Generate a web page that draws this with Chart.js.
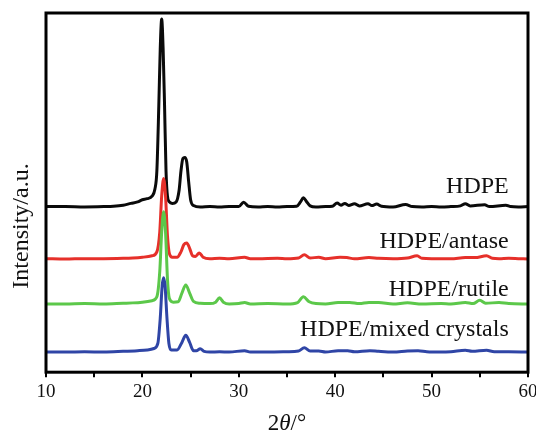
<!DOCTYPE html>
<html lang="en">
  <head>
    <meta charset="utf-8" />
    <title>XRD patterns</title>
    <script src="https://cdn.jsdelivr.net/npm/chart.js/dist/chart.umd.min.js"></script>
    <style>
      * {
        margin: 0;
        padding: 0;
      }
      body {
        background: #fff;
      }
      .chartBox {
        width: 536px;
        height: 436px;
      }
    </style>
  </head>
  <body>
    <div class="chartBox">
      <canvas id="myChart"></canvas>
    </div>

    <script>
      // 2theta / intensity pairs (curves are offset vertically)
      const hdpeX = [10, 12, 14, 16, 17, 18, 18.8, 19.5, 20, 20.5, 21, 21.3, 21.5, 21.7, 21.85, 22, 22.15, 22.3, 22.45, 22.6, 22.8, 23.1, 23.5, 23.8, 24, 24.2, 24.4, 24.6, 24.8, 25, 25.3, 26, 27, 28, 29, 30, 30.5, 31, 32, 33, 34, 35, 36, 36.4, 36.7, 37, 37.4, 38, 39, 39.7, 40.2, 40.6, 41, 41.4, 42, 42.5, 43.4, 43.8, 44.3, 44.8, 46, 47.3, 48, 49, 50, 51, 52, 53, 53.5, 54, 55.5, 56, 57.7, 58.2, 59, 60];
      const hdpeY = [46.1, 46.1, 46.0, 46.1, 46.2, 46.5, 47.0, 47.4, 48.0, 48.3, 49.0, 51, 56, 74, 90, 98.3, 90, 74, 56, 49, 47.4, 47.0, 47.4, 50.5, 56, 59.5, 59.8, 58.5, 53, 48, 46.4, 46.0, 46.1, 46.0, 46.1, 46.1, 47.3, 46.2, 46.0, 46.1, 46.0, 46.1, 46.2, 47.4, 48.6, 47.6, 46.3, 46.0, 46.1, 46.2, 47.1, 46.5, 47.0, 46.4, 46.9, 46.3, 46.9, 46.4, 46.8, 46.2, 46.0, 46.7, 46.1, 46.0, 46.1, 46.0, 46.1, 46.3, 46.9, 46.3, 46.6, 46.1, 46.5, 46.1, 46.0, 46.1];

      const antaseX = [10, 12, 14, 16, 18, 19, 20, 21, 21.5, 21.8, 22, 22.2, 22.4, 22.6, 22.8, 23.1, 23.6, 24, 24.3, 24.6, 24.9, 25.2, 25.5, 25.9, 26.3, 27, 28, 29, 30.6, 31.2, 32, 34, 35, 36.2, 36.8, 37.4, 38.3, 39, 40.5, 41.2, 42, 43.5, 44.5, 46, 47.5, 48.5, 49, 50, 52, 53.5, 54.5, 55.7, 56.3, 57, 58, 59, 60];
      const antaseY = [31.6, 31.5, 31.6, 31.6, 31.7, 31.8, 32.0, 32.4, 33.5, 39, 49, 53.9, 49, 38, 33, 32, 32, 33.5, 35.5, 36.0, 34.5, 32.4, 32.2, 33.2, 32.0, 31.6, 31.7, 31.6, 32.0, 31.6, 31.6, 31.7, 31.6, 31.8, 32.7, 31.8, 32.0, 31.6, 32.0, 31.9, 31.6, 31.9, 31.7, 31.6, 31.8, 32.4, 31.7, 31.6, 31.6, 31.9, 31.9, 32.4, 31.7, 31.6, 31.7, 31.6, 31.5];

      const rutileX = [10, 12, 14, 16, 18, 19, 20, 21, 21.5, 21.8, 22, 22.2, 22.4, 22.6, 22.8, 23.2, 23.7, 24.1, 24.5, 24.9, 25.3, 26, 27, 27.6, 28, 28.4, 29, 30, 30.6, 31.2, 33, 35, 36.1, 36.7, 37.3, 38, 39, 40.3, 41.5, 42.5, 43.5, 44.5, 46, 47.5, 49, 51, 52, 53.5, 54.3, 55, 55.6, 57, 58, 60];
      const rutileY = [19.0, 19.0, 19.1, 19.0, 19.2, 19.3, 19.5, 19.9, 21, 28, 39, 44.7, 39, 26, 20.5, 19.5, 19.6, 22, 24.3, 22, 19.7, 19.2, 19.1, 19.5, 20.7, 19.5, 19.0, 19.1, 19.4, 19.0, 19.1, 19.0, 19.4, 21.0, 19.6, 19.1, 19.0, 19.4, 19.4, 19.1, 19.4, 19.4, 19.0, 19.3, 19.0, 19.1, 19.0, 19.4, 19.1, 20.0, 19.2, 19.4, 19.1, 19.0];

      const mixedX = [10, 12, 14, 16, 18, 19.5, 20.5, 21.2, 21.6, 21.85, 22.05, 22.2, 22.35, 22.55, 22.75, 23, 23.6, 24.1, 24.5, 24.9, 25.3, 25.6, 26, 26.4, 27, 28, 29, 30.6, 31.2, 33, 35, 36.2, 36.8, 37.4, 38.3, 39, 40.3, 41.3, 42, 43.6, 44.5, 46, 47.5, 48.6, 49.5, 51, 52, 53.5, 54.2, 55.7, 56.5, 58, 60];
      const mixedY = [5.6, 5.6, 5.7, 5.6, 5.8, 6.0, 6.2, 6.6, 8, 15, 24, 26.3, 24, 15, 8, 6.2, 6.2, 8.3, 10.3, 8.3, 6.0, 6.0, 6.5, 5.8, 5.6, 5.7, 5.6, 6.0, 5.6, 5.6, 5.7, 5.9, 6.8, 5.9, 5.9, 5.6, 6.0, 6.0, 5.7, 6.0, 5.8, 5.6, 5.9, 6.0, 5.7, 5.6, 5.7, 6.1, 5.8, 6.1, 5.7, 5.7, 5.6];

      const seriesNames = ["HDPE", "HDPE/antase", "HDPE/rutile", "HDPE/mixed crystals"];
      const seriesColors = ["#0a0a0a", "#e6302a", "#5cc84a", "#2f45a6"];

      const serif = "'Liberation Serif', 'DejaVu Serif', serif";

      function pts(xs, ys) {
        return xs.map((x, i) => ({ x: x, y: ys[i] }));
      }

      const allX = [hdpeX, antaseX, rutileX, mixedX];
      const allY = [hdpeY, antaseY, rutileY, mixedY];

      const data = {
        datasets: seriesNames.map((name, i) => ({
          label: name,
          data: pts(allX[i], allY[i]),
          borderColor: seriesColors[i],
          borderWidth: 3,
          pointRadius: 0,
          cubicInterpolationMode: "monotone",
          order: 4 - i, // later series drawn on top
        })),
      };

      // where each curve's name sits (x in degrees, y in plot units)
      const nameAnchorX = 58.0;
      const nameAnchorY = [50.0, 34.6, 21.2, 10.1];

      const frameAndText = {
        id: "frameAndText",
        afterDraw(chart) {
          const { ctx, chartArea, scales } = chart;
          ctx.save();
          // box round the plot
          ctx.strokeStyle = "#000";
          ctx.lineWidth = 3;
          ctx.strokeRect(
            chartArea.left,
            chartArea.top,
            chartArea.right - chartArea.left,
            chartArea.bottom - chartArea.top
          );

          // curve names
          ctx.fillStyle = "#111";
          ctx.font = "24px " + serif;
          ctx.textAlign = "right";
          ctx.textBaseline = "alphabetic";
          seriesNames.forEach((name, i) => {
            ctx.fillText(
              name,
              scales.x.getPixelForValue(nameAnchorX),
              scales.y.getPixelForValue(nameAnchorY[i])
            );
          });

          // x title, theta in italics
          const parts = [
            ["2", "23px " + serif],
            ["θ", "italic 23px " + serif],
            ["/°", "23px " + serif],
          ];
          let total = 0;
          parts.forEach((p) => {
            ctx.font = p[1];
            total += ctx.measureText(p[0]).width;
          });
          let tx = (chartArea.left + chartArea.right) / 2 - total / 2;
          ctx.textAlign = "left";
          parts.forEach((p) => {
            ctx.font = p[1];
            ctx.fillText(p[0], tx, 430);
            tx += ctx.measureText(p[0]).width;
          });

          // y title
          ctx.translate(22, 226);
          ctx.rotate(-Math.PI / 2);
          ctx.textAlign = "center";
          ctx.textBaseline = "middle";
          ctx.font = "24px " + serif;
          ctx.fillText("Intensity/a.u.", 0, 0);
          ctx.restore();
        },
      };

      const config = {
        type: "line",
        data,
        options: {
          responsive: true,
          maintainAspectRatio: false,
          animation: false,
          layout: {
            padding: { left: 46, right: 8, top: 13, bottom: 30 },
          },
          plugins: {
            legend: { display: false },
            tooltip: { enabled: false },
          },
          scales: {
            x: {
              type: "linear",
              min: 10,
              max: 60,
              border: { display: false },
              afterFit(scale) {
                // let the "60" label run into the margin, as in the original
                scale.paddingRight = 0;
              },
              grid: {
                drawOnChartArea: false,
                drawTicks: true,
                tickLength: 5,
                color: "#000",
                lineWidth: 2,
              },
              ticks: {
                stepSize: 5,
                autoSkip: false,
                maxRotation: 0,
                padding: 3,
                color: "#111",
                font: { family: serif, size: 19 },
                callback: (v) => (v % 10 === 0 ? v : ""),
              },
            },
            y: {
              display: false,
              min: 0,
              max: 100,
            },
          },
        },
        plugins: [frameAndText],
      };

      const myChart = new Chart(document.getElementById("myChart"), config);
    </script>
  </body>
</html>
